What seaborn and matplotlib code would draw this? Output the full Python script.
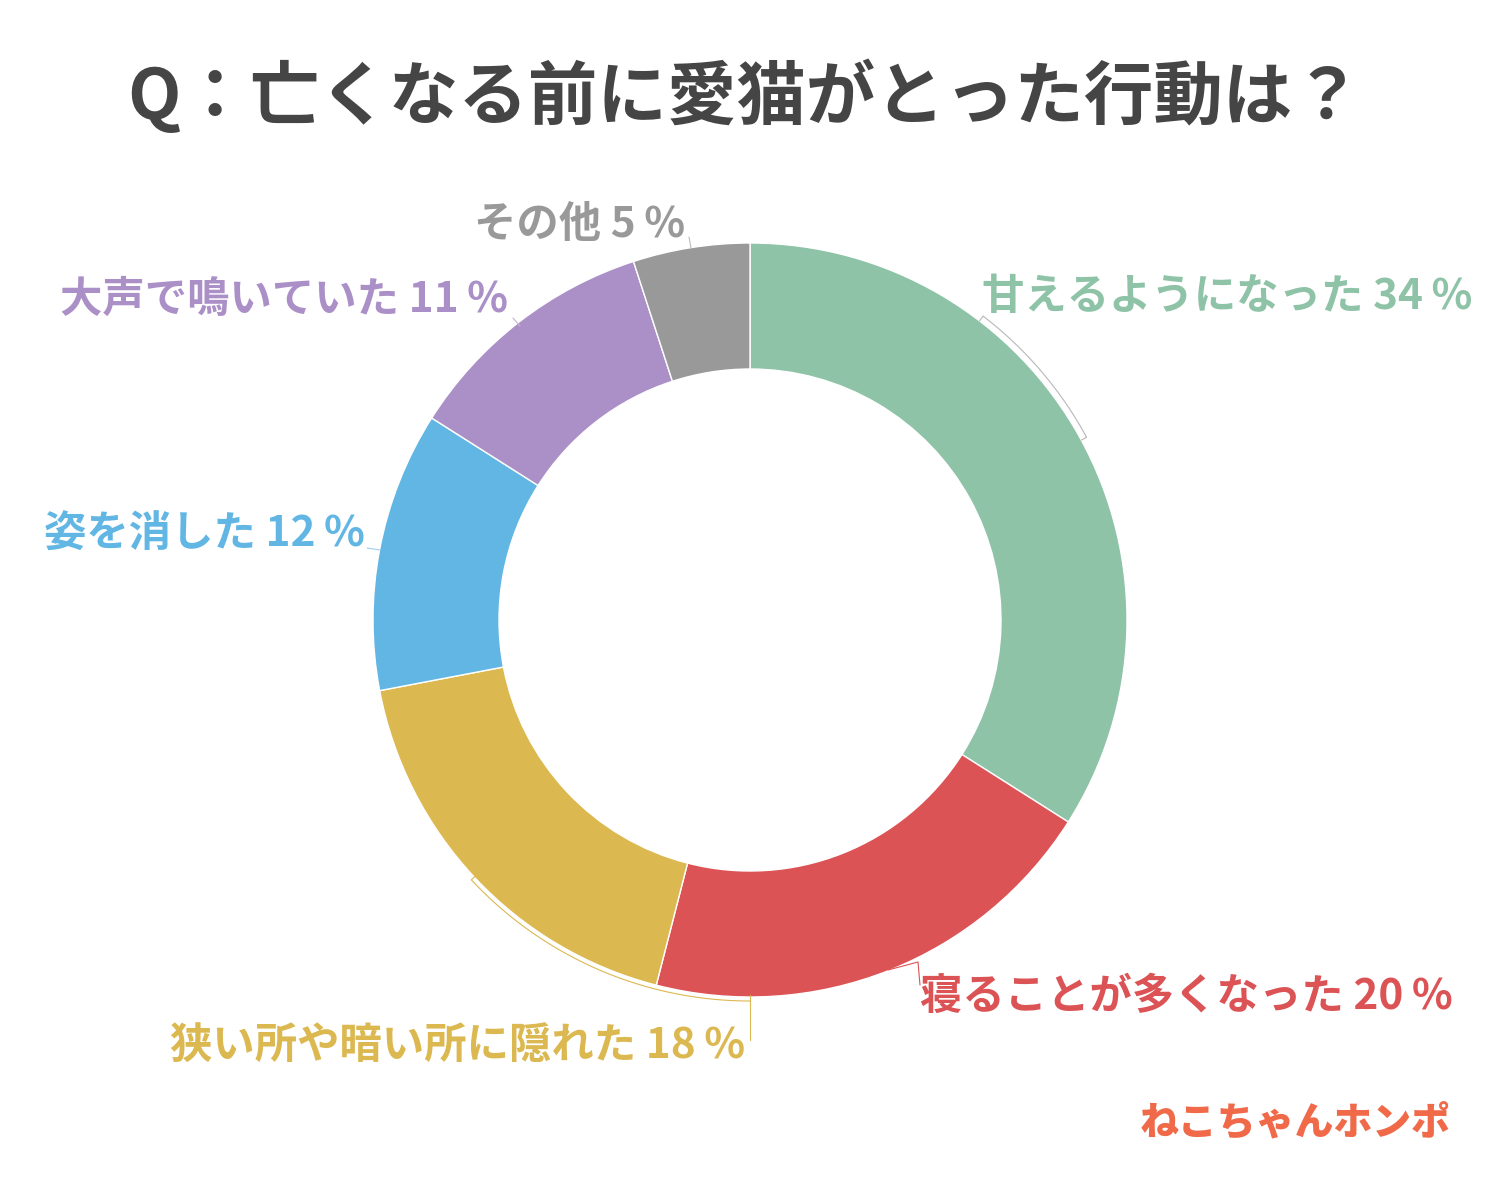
import numpy as np
import seaborn as sns
import matplotlib.pyplot as plt

# Data
categories = ["甘えるようになった", "寝ることが多くなった", "狭い所や暗い所に隠れた",
              "姿を消した", "大声で鳴いていた", "その他"]
values = [34, 20, 18, 12, 11, 5]
colors = ["#8fc3a8", "#dc5356", "#dcb851", "#62b6e3", "#ab90c7", "#999999"]
title = "Q：亡くなる前に愛猫がとった行動は？"
logo = "ねこちゃんホンポ"

sns.set_theme(style="white")
plt.rcParams["font.family"] = ["Noto Sans CJK JP", "DejaVu Sans"]

fig = plt.figure(figsize=(15, 12), dpi=100)
ax = fig.add_axes([0, 0, 1, 1])

cx, cy = 750, 620
r_out, ring = 377, 126

ax.pie(values, colors=colors, startangle=-90, counterclock=True,
       center=(cx, cy), radius=r_out,
       wedgeprops={"width": ring, "edgecolor": "white", "linewidth": 1})
ax.set_xlim(0, 1500)
ax.set_ylim(1200, 0)
ax.set_aspect("equal")
ax.axis("off")


def polar(phi_deg, r):
    phi = np.deg2rad(phi_deg)
    return cx + r * np.sin(phi), cy - r * np.cos(phi)


def bracket(a0, a1, r, color):
    phi = np.linspace(a0, a1, 60)
    x, y = polar(phi, r)
    ax.plot(x, y, color=color, lw=0.8)
    for a in (a0, a1):
        xs, ys = polar(np.array([a, a]), np.array([r, r - 6]))
        ax.plot(xs, ys, color=color, lw=0.8)


# leader lines
bracket(37.5, 61.5, 383, "#b8b8b8")
bracket(180, 227, 381, "#dcb851")
ax.plot([750, 750], [1001, 1040], color="#dcb851", lw=0.8)
ax.plot([888, 918, 920], [970, 962, 985], color="#dc5356", lw=0.8)
ax.plot([367, 380], [548, 550], color="#9fcfea", lw=0.8)
ax.plot([513, 520], [318, 326], color="#c4b2d6", lw=0.8)
ax.plot([689, 691], [237, 248], color="#bbbbbb", lw=0.8)

# labels
label_pos = [
    (982, 297, "left"),
    (920, 997, "left"),
    (745, 1047, "right"),
    (365, 535, "right"),
    (508, 300, "right"),
    (685, 225, "right"),
]
for cat, val, col, (x, y, ha) in zip(categories, values, colors, label_pos):
    ax.text(x, y, f"{cat} {val}\u2009%", color=col, fontsize=30.5, fontweight="bold",
            ha=ha, va="center")

ax.text(745, 97, title, color="#454545", fontsize=50, fontweight="bold",
        ha="center", va="center")
ax.text(1295, 1122, logo, color="#f06a4a", fontsize=28, fontweight="heavy",
        ha="center", va="center")

fig.savefig("out.png", dpi=100, facecolor="white")
